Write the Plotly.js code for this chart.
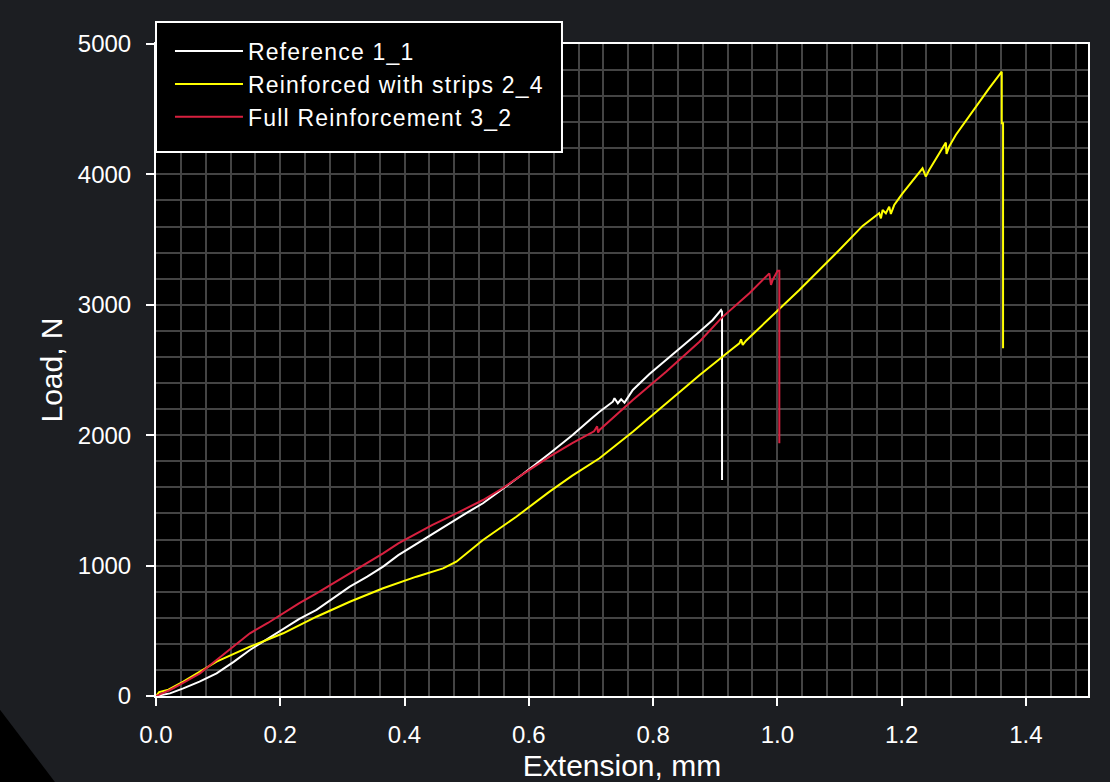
<!DOCTYPE html>
<html>
<head>
<meta charset="utf-8">
<script src="https://cdn.plot.ly/plotly-3.0.1.min.js"></script>
<style>
html,body{margin:0;padding:0;background:#1c1e22;}
#chart{width:1110px;height:782px;}
.legendtext{letter-spacing:1.2px;}
</style>
</head>
<body>
<div id="chart"></div>
<script>
// Reference 1_1 (white)
var refX = [0, 0.0225, 0.0439, 0.07, 0.0975, 0.125, 0.1511, 0.18, 0.2047, 0.23, 0.2583, 0.285, 0.3119, 0.34, 0.3655, 0.39, 0.4191, 0.445, 0.4727, 0.5, 0.5263, 0.5584, 0.59, 0.6334, 0.67, 0.7, 0.7138, 0.7353, 0.7379, 0.7433, 0.7486, 0.754, 0.7674, 0.7942, 0.821, 0.8478, 0.8746, 0.896, 0.9041, 0.9094, 0.911, 0.911];
var refY = [0, 20, 59, 110, 174, 262, 353, 440, 519, 590, 660, 750, 838, 915, 992, 1080, 1166, 1245, 1329, 1405, 1478, 1590, 1700, 1860, 2000, 2125, 2180, 2257, 2283, 2245, 2275, 2250, 2347, 2469, 2577, 2679, 2794, 2884, 2935, 2960, 2947, 1657];

// Reinforced with strips 2_4 (yellow)
var stripX = [0, 0.005, 0.02, 0.0439, 0.0975, 0.1511, 0.2047, 0.2583, 0.3119, 0.3655, 0.4191, 0.462, 0.4834, 0.5263, 0.5799, 0.6334, 0.67, 0.7138, 0.7674, 0.821, 0.8746, 0.9282, 0.9389, 0.9416, 0.9443, 0.9496, 0.9818, 1.0086, 1.0354, 1.0997, 1.1158, 1.1372, 1.164, 1.1667, 1.1694, 1.1747, 1.1801, 1.1827, 1.1881, 1.2015, 1.2337, 1.239, 1.2444, 1.2712, 1.2723, 1.2765, 1.2872, 1.3194, 1.3408, 1.3612, 1.3612, 1.3633, 1.3633];
var stripY = [0, 30, 48, 110, 263, 378, 481, 608, 723, 826, 915, 979, 1030, 1196, 1375, 1567, 1690, 1823, 2027, 2245, 2460, 2665, 2705, 2735, 2692, 2725, 2870, 2990, 3114, 3420, 3497, 3605, 3702, 3663, 3727, 3702, 3753, 3697, 3765, 3855, 4047, 3983, 4034, 4244, 4157, 4213, 4302, 4520, 4660, 4788, 4392, 4392, 2666];

// Full Reinforcement 3_2 (red)
var fullX = [0, 0.0225, 0.045, 0.0707, 0.0975, 0.125, 0.1511, 0.18, 0.2047, 0.23, 0.2583, 0.285, 0.3119, 0.34, 0.3655, 0.39, 0.4191, 0.445, 0.4727, 0.5, 0.5263, 0.5584, 0.59, 0.6334, 0.67, 0.705, 0.71, 0.7115, 0.7138, 0.7674, 0.821, 0.8746, 0.9094, 0.955, 0.9871, 0.9898, 0.9925, 1.0005, 1.0032, 1.0032];
var fullY = [0, 46, 105, 174, 276, 380, 481, 560, 634, 710, 787, 864, 941, 1018, 1094, 1170, 1248, 1312, 1375, 1440, 1503, 1595, 1700, 1835, 1940, 2030, 2068, 2020, 2040, 2270, 2487, 2717, 2896, 3088, 3241, 3152, 3190, 3262, 3262, 1938];

var seriesNames = ['Reference 1_1', 'Reinforced with strips 2_4', 'Full Reinforcement 3_2'];
var xTickVals = [0, 0.2, 0.4, 0.6, 0.8, 1.0, 1.2, 1.4];
var xTickText = ['0.0', '0.2', '0.4', '0.6', '0.8', '1.0', '1.2', '1.4'];
var yTickVals = [0, 1000, 2000, 3000, 4000, 5000];

var FONT = 'Arial, "Liberation Sans", sans-serif';

var traces = [
  {x: refX, y: refY, name: seriesNames[0], mode: 'lines', line: {color: '#ffffff', width: 2}},
  {x: stripX, y: stripY, name: seriesNames[1], mode: 'lines', line: {color: '#ffff00', width: 2}},
  {x: fullX, y: fullY, name: seriesNames[2], mode: 'lines', line: {color: '#d8203f', width: 2}}
];

var gridCol = '#444444';

var layout = {
  width: 1110, height: 782,
  paper_bgcolor: '#1c1e22',
  plot_bgcolor: '#000000',
  margin: {l: 156, r: 22, t: 44, b: 86, pad: 0},
  font: {family: FONT, color: '#ffffff', size: 24},
  showlegend: true,
  legend: {
    x: 0.015, xanchor: 'left', y: 1.0222, yanchor: 'top',
    bgcolor: 'rgba(0,0,0,0)', borderwidth: 0,
    font: {family: FONT, size: 23, color: '#ffffff'},
    itemwidth: 68, tracegroupgap: 0
  },
  xaxis: {
    range: [0, 1.5], autorange: false,
    tickmode: 'array', tickvals: xTickVals, ticktext: xTickText,
    ticks: 'outside', ticklen: 8, tickwidth: 2, tickcolor: '#ffffff',
    ticklabelstandoff: 8,
    showline: true, linecolor: '#ffffff', linewidth: 2, mirror: true,
    showgrid: true, gridcolor: gridCol, gridwidth: 2,
    minor: {dtick: 0.04, tick0: 0, showgrid: true, gridcolor: gridCol, gridwidth: 2, ticks: ''},
    zeroline: false,
    tickfont: {family: FONT, size: 24, color: '#ffffff'},
    title: {text: 'Extension, mm', font: {family: FONT, size: 30, color: '#ffffff'}, standoff: 11},
    automargin: false
  },
  yaxis: {
    range: [0, 5000], autorange: false,
    tickmode: 'array', tickvals: yTickVals,
    ticks: 'outside', ticklen: 8, tickwidth: 2, tickcolor: '#ffffff',
    ticklabelstandoff: 10,
    showline: true, linecolor: '#ffffff', linewidth: 2, mirror: true,
    showgrid: true, gridcolor: gridCol, gridwidth: 2,
    minor: {dtick: 200, tick0: 0, showgrid: true, gridcolor: gridCol, gridwidth: 2, ticks: ''},
    zeroline: false,
    tickfont: {family: FONT, size: 24, color: '#ffffff'},
    title: {text: 'Load, N', font: {family: FONT, size: 30, color: '#ffffff'}, standoff: 6},
    automargin: false
  },
  shapes: [
    {
      type: 'path', xref: 'paper', yref: 'paper', layer: 'below',
      path: 'M -0.1803,0.0031 L -0.1019,-0.1442 L -0.1803,-0.1442 Z',
      fillcolor: '#000000', line: {width: 0}
    },
    {
      type: 'rect', xref: 'paper', yref: 'paper', layer: 'above',
      x0: 0, x1: 0.4356, y0: 0.8344, y1: 1.0337,
      fillcolor: '#000000', line: {color: '#ffffff', width: 2}
    }
  ]
};

Plotly.newPlot('chart', traces, layout, {displayModeBar: false, staticPlot: true});
</script>
</body>
</html>
